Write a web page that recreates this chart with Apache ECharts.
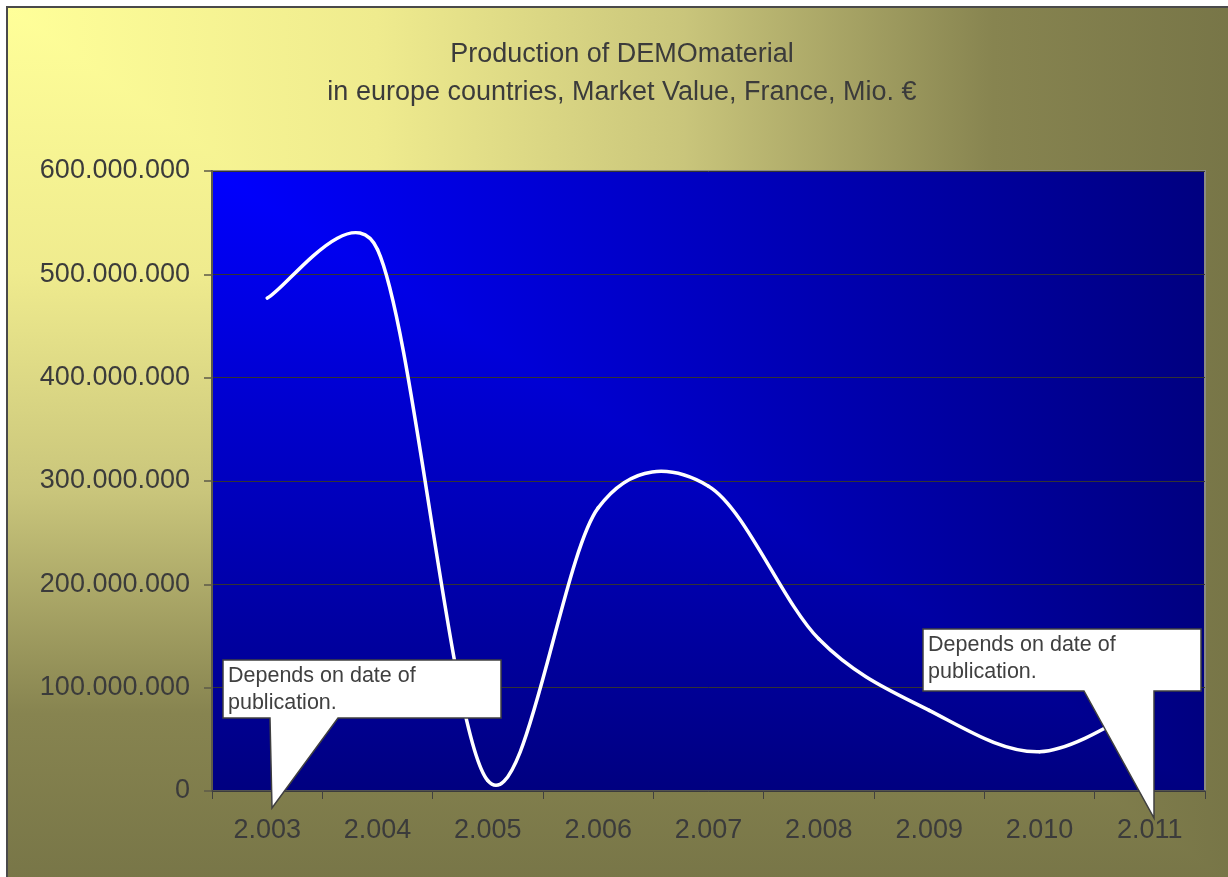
<!DOCTYPE html>
<html><head><meta charset="utf-8">
<script src="https://cdn.jsdelivr.net/npm/echarts@6/dist/echarts.min.js"></script>
<style>html,body{margin:0;padding:0;background:#fff;overflow:hidden}#c{width:1228px;height:877px}</style>
</head><body><div id="c"></div>
<script>
// ---- data ----
const categories = ['2.003', '2.004', '2.005', '2.006', '2.007', '2.008', '2.009', '2.010', '2.011'];
const productionValues = [477e6, 524e6, 10e6, 274e6, 295e6, 147e6, 78e6, 38e6, 85e6];
const yMin = 0, yMax = 600e6, yInterval = 100e6;
const titleLines = ['Production of DEMOmaterial', 'in europe countries, Market Value, France, Mio. €'];
const calloutText = 'Depends on date of\npublication.';

// ---- layout ----
const PLOT = { left: 212, top: 171, right: 1205, bottom: 791 };
const OUTER = { left: 7, top: 7, right: 1240, bottom: 890 };
const TXT = '#3b3b3b';
const FONT = '"Liberation Sans", Arial, Helvetica, sans-serif';

function fmt(v) { return String(Math.round(v)).replace(/\B(?=(\d{3})+(?!\d))/g, '.'); }

function cornerBg(b, stops, z) {
  const cs = stops.map(s => ({ offset: s[0], color: s[1] }));
  return [
    { type: 'rect', z: z, silent: true,
      shape: { x: b.left, y: b.top, width: b.right - b.left, height: b.bottom - b.top },
      style: { fill: new echarts.graphic.LinearGradient(b.left, 0, b.right, 0, cs, true) } },
    { type: 'polygon', z: z + 1, silent: true,
      shape: { points: [[b.left, b.top], [b.left, b.bottom], [b.right, b.bottom]] },
      style: { fill: new echarts.graphic.LinearGradient(0, b.top, 0, b.bottom, cs, true) } }
  ];
}

function ctrl(pts, i) {
  const n = pts.length, p = pts[i];
  const prev = i > 0 ? pts[i - 1] : p, next = i < n - 1 ? pts[i + 1] : p;
  const tx = (next[0] - prev[0]) / 6, ty = (next[1] - prev[1]) / 6;
  const tl = Math.hypot(tx, ty);
  const lin = Math.hypot(p[0] - prev[0], p[1] - prev[1]);
  const lout = Math.hypot(next[0] - p[0], next[1] - p[1]);
  const kin = tl > 0 ? Math.min(1, 0.5 * lin / tl) : 0;
  const kout = tl > 0 ? Math.min(1, 0.5 * lout / tl) : 0;
  return { cin: [p[0] - tx * kin, p[1] - ty * kin], cout: [p[0] + tx * kout, p[1] + ty * kout] };
}

function callout(points, tx, ty) {
  return [
    { type: 'polygon', z: 100, silent: true, shape: { points: points },
      style: { fill: '#ffffff', stroke: '#404040', lineWidth: 1.5 } },
    { type: 'text', z: 101, silent: true, x: tx, y: ty,
      style: { text: calloutText, font: '21.5px ' + FONT, fill: '#404040', lineHeight: 27.5, verticalAlign: 'top', align: 'left' } }
  ];
}

const graphics = []
  .concat(cornerBg(OUTER, [[0, '#ffff99'], [0.3, '#efeb8e'], [0.55, '#c9c57b'], [0.8, '#878450'], [1, '#777547']], -20))
  .concat([{ type: 'rect', z: -15, silent: true,
    shape: { x: OUTER.left, y: OUTER.top, width: OUTER.right - OUTER.left, height: OUTER.bottom - OUTER.top },
    style: { fill: 'none', stroke: '#4a4a4a', lineWidth: 2 } }])
  .concat(cornerBg(PLOT, [[0, '#0000ff'], [1, '#000080']], -10))
  .concat(callout([[223, 660], [501, 660], [501, 718], [338, 718], [272, 808], [270, 718], [223, 718]], 228, 662))
  .concat(callout([[923, 629], [1201, 629], [1201, 691], [1154, 691], [1154, 818], [1084, 691], [923, 691]], 928, 631));

const chart = echarts.init(document.getElementById('c'), null, { renderer: 'canvas' });
chart.setOption({
  animation: false,
  backgroundColor: '#ffffff',
  title: {
    text: titleLines.join('\n'), left: 617, top: 31, textAlign: 'center',
    textStyle: { fontFamily: FONT, fontSize: 27, fontWeight: 'normal', color: TXT, lineHeight: 38 }
  },
  grid: {
    left: PLOT.left, top: PLOT.top, right: 1228 - PLOT.right, bottom: 877 - PLOT.bottom,
    show: true, backgroundColor: 'transparent', borderColor: '#8a8a82', borderWidth: 2, containLabel: false
  },
  xAxis: {
    type: 'category', data: categories, boundaryGap: true,
    axisLine: { lineStyle: { color: '#404040', width: 1.5 } },
    axisTick: { show: true, length: 8, lineStyle: { color: '#404040', width: 1 } },
    axisLabel: { margin: 26, fontFamily: FONT, fontSize: 27, color: TXT, interval: 0 },
    splitLine: { show: false }
  },
  yAxis: {
    type: 'value', min: yMin, max: yMax, interval: yInterval,
    axisLine: { show: true, lineStyle: { color: '#5c5a48', width: 2 } },
    axisTick: { show: true, length: 8, lineStyle: { color: '#5c5a48', width: 1.5 } },
    axisLabel: { margin: 22, fontFamily: FONT, fontSize: 27, color: TXT, formatter: fmt },
    splitLine: { show: true, lineStyle: { color: '#333333', width: 1 } }
  },
  graphic: { elements: graphics },
  series: [{
    type: 'custom', coordinateSystem: 'cartesian2d', clip: false, silent: true, z: 5,
    data: productionValues.map((v, i) => [i, v]),
    encode: { x: 0, y: 1 },
    renderItem: function (params, api) {
      const i = params.dataIndex;
      if (i >= productionValues.length - 1) return { type: 'group', children: [] };
      const pts = productionValues.map((v, k) => api.coord([k, v]));
      const a = ctrl(pts, i), b = ctrl(pts, i + 1);
      return {
        type: 'bezierCurve',
        shape: { x1: pts[i][0], y1: pts[i][1], cpx1: a.cout[0], cpy1: a.cout[1],
                 cpx2: b.cin[0], cpy2: b.cin[1], x2: pts[i + 1][0], y2: pts[i + 1][1] },
        style: { stroke: '#ffffff', lineWidth: 3.5, fill: 'none', lineCap: 'round' }
      };
    }
  }]
});
</script></body></html>
